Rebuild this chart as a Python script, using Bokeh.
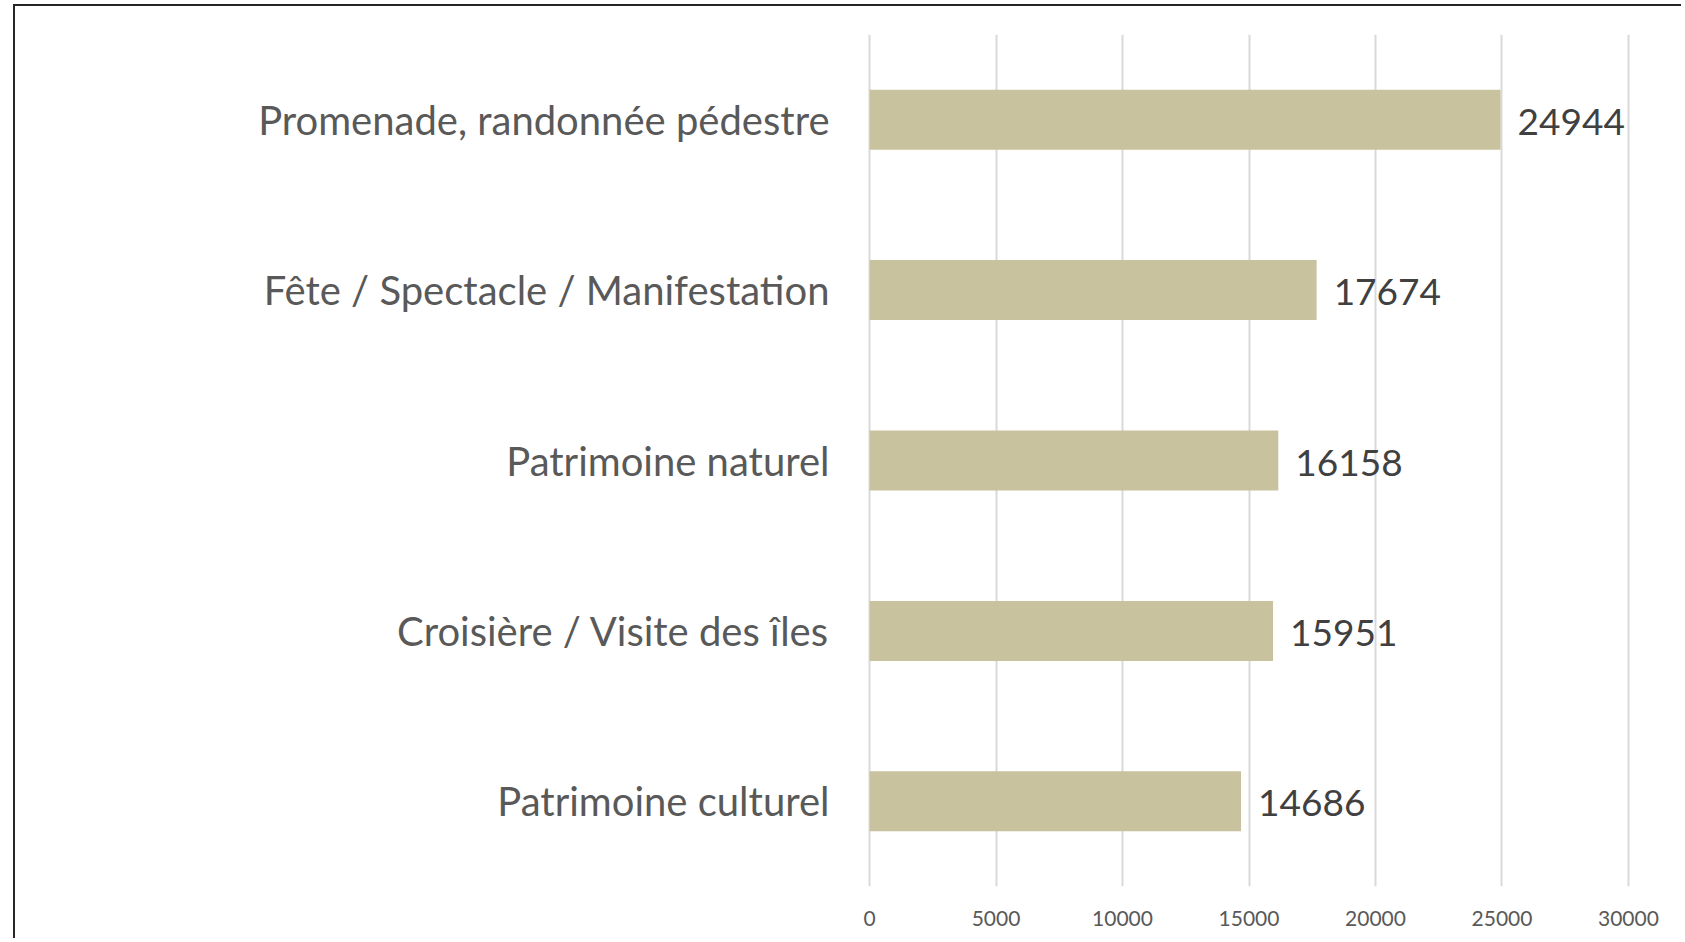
from bokeh.plotting import figure
from bokeh.models import ColumnDataSource, FixedTicker
from bokeh.core.properties import value
from bokeh.embed import file_html
from bokeh.resources import INLINE

categories = [
    "Patrimoine culturel",
    "Croisière / Visite des îles",
    "Patrimoine naturel",
    "Fête / Spectacle / Manifestation",
    "Promenade, randonnée pédestre",
]
counts = [14686, 15951, 16158, 17674, 24944]
x_ticks = [0, 5000, 10000, 15000, 20000, 25000, 30000]

FONT = "Lato"

src = ColumnDataSource(dict(cat=categories, val=counts, lbl=[str(v) for v in counts]))

W, H = 1668, 934
p = figure(
    y_range=categories,
    x_range=(-120, 30120),
    width=W,
    height=H,
    output_backend="svg",
    toolbar_location=None,
    min_border_left=851,
    min_border_right=W - 1616,
    min_border_top=28,
    min_border_bottom=H - 880,
)
p.styles = {
    "border-left": "2px solid #262626",
    "border-top": "2px solid #262626",
    "margin-left": "13px",
    "margin-top": "4px",
}

p.hbar(y="cat", right="val", left=0, height=0.352, source=src,
       fill_color="#C8C39E", line_color=None)

p.text(x="val", y="cat", text="lbl", source=src, x_offset=17, y_offset=2,
       text_align="left", text_baseline="middle",
       text_font=value(FONT), text_font_size="37px", text_color="#404040")

p.outline_line_color = None
p.background_fill_color = "white"
p.border_fill_color = "white"

p.ygrid.grid_line_color = None
p.xgrid.grid_line_color = "#D9D9D9"
p.xgrid.grid_line_width = 2
p.xaxis.ticker = FixedTicker(ticks=x_ticks)
p.xaxis.axis_line_color = None
p.xaxis.major_tick_line_color = None
p.xaxis.minor_tick_line_color = None
p.xaxis.major_tick_out = 0
p.xaxis.major_label_standoff = 24
p.xaxis.major_label_text_font = FONT
p.xaxis.major_label_text_font_size = "21px"
p.xaxis.major_label_text_color = "#595959"

p.yaxis.axis_line_color = None
p.yaxis.major_tick_line_color = None
p.yaxis.major_tick_out = 0
p.yaxis.major_label_standoff = 37
p.yaxis.major_label_text_font = FONT
p.yaxis.major_label_text_font_size = "40px"
p.yaxis.major_label_text_color = "#595959"

open("out.html", "w").write(file_html(p, INLINE))
